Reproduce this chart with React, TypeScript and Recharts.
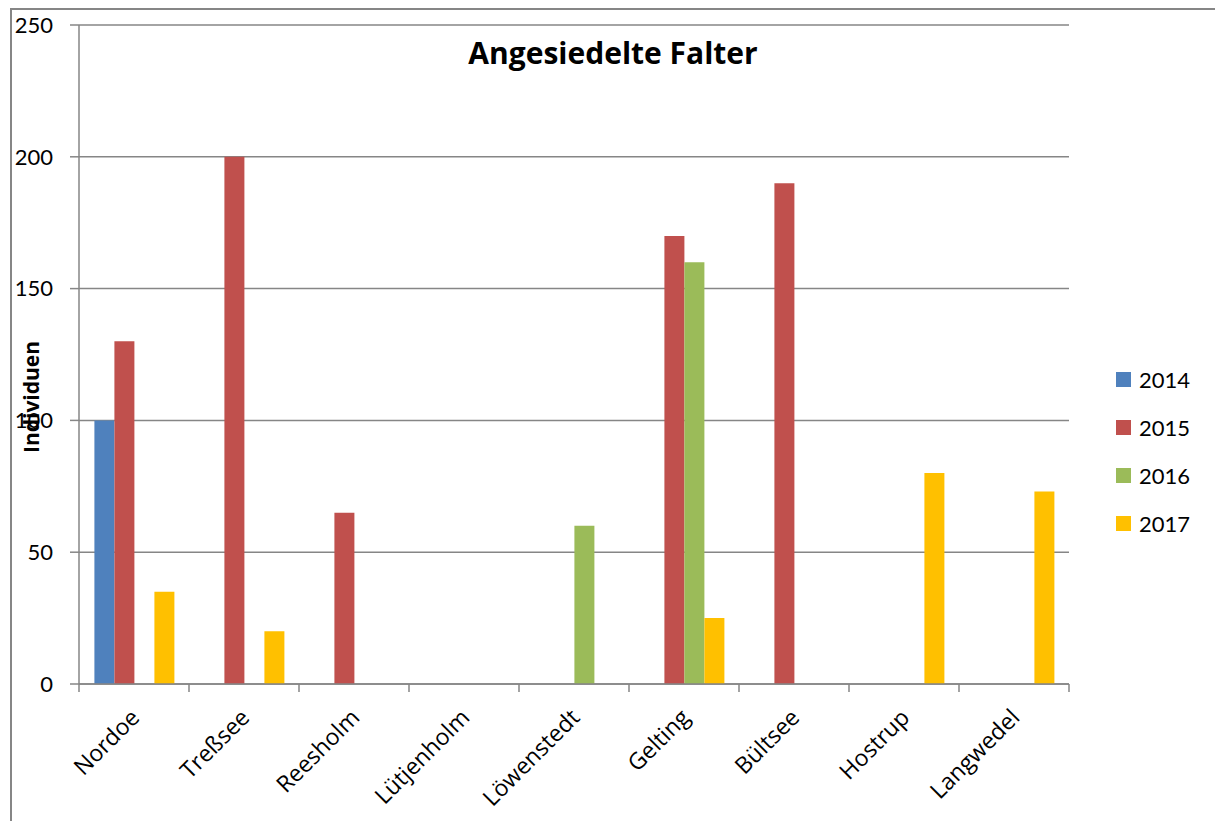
import { BarChart, Bar, XAxis, YAxis, CartesianGrid, Legend } from "recharts";

const sites = [
  "Nordoe",
  "Treßsee",
  "Reesholm",
  "Lütjenholm",
  "Löwenstedt",
  "Gelting",
  "Bültsee",
  "Hostrup",
  "Langwedel",
];

const y2014 = [100, 0, 0, 0, 0, 0, 0, 0, 0];
const y2015 = [130, 200, 65, 0, 0, 170, 190, 0, 0];
const y2016 = [0, 0, 0, 0, 60, 160, 0, 0, 0];
const y2017 = [35, 20, 0, 0, 0, 25, 0, 80, 73];

const yTicks = [0, 50, 100, 150, 200, 250];

const series = [
  { key: "2014", color: "#4F81BD" },
  { key: "2015", color: "#C0504D" },
  { key: "2016", color: "#9BBB59" },
  { key: "2017", color: "#FFC000" },
];

const data = sites.map((site, i) => ({
  site,
  "2014": y2014[i],
  "2015": y2015[i],
  "2016": y2016[i],
  "2017": y2017[i],
}));

const W = 1215;
const H = 821;
const PLOT_LEFT = 79;
const PLOT_RIGHT = 1069;
const PLOT_TOP = 25;
const PLOT_BOTTOM = 684;
const BAND = (PLOT_RIGHT - PLOT_LEFT) / sites.length;
const GRAY = "#868686";

const SiteTick = (props: any) => {
  const { x, y, payload, index } = props;
  const axisY = y - 10;
  const left = x - BAND / 2;
  return (
    <g>
      <line x1={left} y1={axisY} x2={left} y2={axisY + 8} stroke={GRAY} strokeWidth={1.5} />
      {index === sites.length - 1 && (
        <line x1={left + BAND} y1={axisY} x2={left + BAND} y2={axisY + 8} stroke={GRAY} strokeWidth={1.5} />
      )}
      <text
        x={x + 7}
        y={axisY + 35}
        textAnchor="end"
        transform={`rotate(-45, ${x + 7}, ${axisY + 35})`}
        fontFamily="'Open Sans', sans-serif"
        fontSize={23}
        fill="#000"
      >
        {payload.value}
      </text>
    </g>
  );
};

const YearLegend = () => (
  <div style={{ fontFamily: "Lato, sans-serif", fontSize: 22, color: "#000" }}>
    {series.map((s) => (
      <div key={s.key} style={{ display: "flex", alignItems: "center", height: 48 }}>
        <span
          style={{ display: "inline-block", width: 15, height: 15, background: s.color, marginRight: 8 }}
        />
        <span>{s.key}</span>
      </div>
    ))}
  </div>
);

export default function App() {
  return (
    <div style={{ position: "absolute", left: 0, top: 0, width: W, height: H, background: "#fff" }}>
      <div
        style={{
          position: "absolute",
          left: 10,
          top: 8,
          width: W,
          height: H,
          border: `2px solid ${GRAY}`,
          boxSizing: "border-box",
        }}
      />
      <BarChart
        width={W}
        height={H}
        data={data}
        margin={{ top: PLOT_TOP, right: W - PLOT_RIGHT, bottom: H - PLOT_BOTTOM - 40, left: PLOT_LEFT - 60 }}
        barCategoryGap="14%"
        barGap={0}
      >
        <CartesianGrid vertical={false} stroke={GRAY} strokeWidth={1.5} />
        <XAxis
          dataKey="site"
          height={40}
          interval={0}
          stroke={GRAY}
          strokeWidth={1.5}
          tickLine={false}
          tick={<SiteTick />}
          tickSize={0}
          tickMargin={10}
        />
        <YAxis
          width={60}
          domain={[0, 250]}
          ticks={yTicks}
          stroke={GRAY}
          strokeWidth={1.5}
          tickSize={9}
          tickMargin={17}
          tick={{ fill: "#000", fontSize: 22, fontFamily: "Lato, sans-serif" }}
          tickLine={{ stroke: GRAY, strokeWidth: 1.5 }}
        />
        <Legend
          layout="vertical"
          align="center"
          verticalAlign="middle"
          content={<YearLegend />}
          wrapperStyle={{ left: 1116, top: 355, width: "auto" }}
        />
        {series.map((s) => (
          <Bar key={s.key} dataKey={s.key} fill={s.color} isAnimationActive={false} />
        ))}
        <text
          x={613}
          y={64}
          textAnchor="middle"
          fontFamily="'Open Sans', sans-serif"
          fontWeight="bold"
          fontSize={30}
          fill="#000"
        >
          Angesiedelte Falter
        </text>
        <text
          x={39}
          y={397}
          textAnchor="middle"
          transform="rotate(-90, 39, 397)"
          fontFamily="'Open Sans', sans-serif"
          fontWeight="bold"
          fontSize={21}
          fill="#000"
        >
          Individuen
        </text>
      </BarChart>
    </div>
  );
}
